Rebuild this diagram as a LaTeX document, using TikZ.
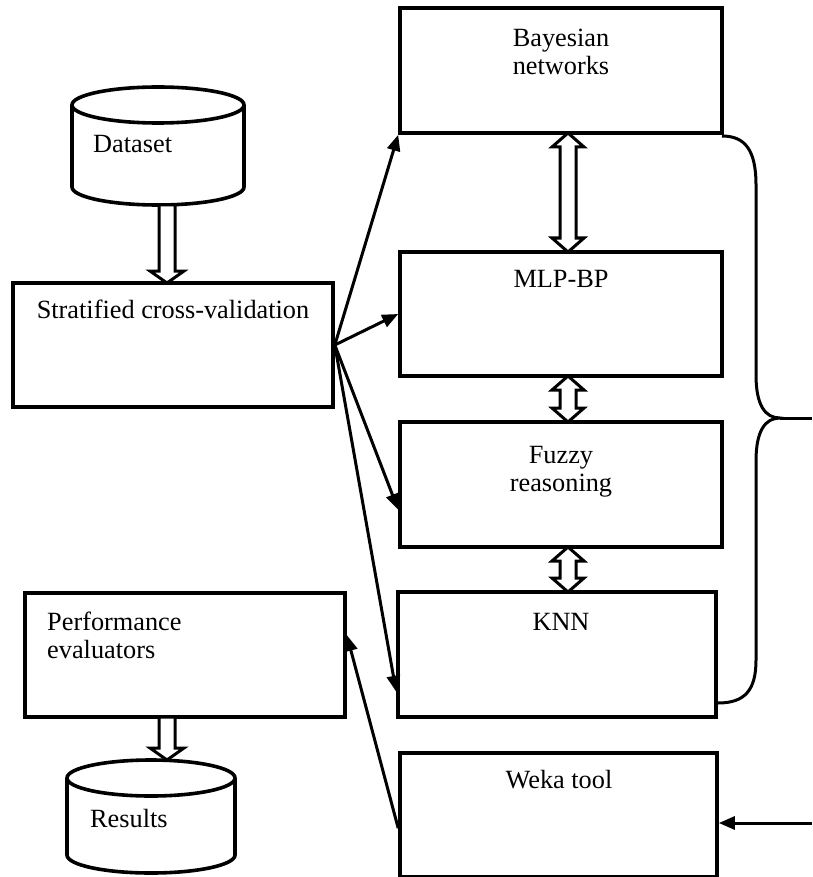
\documentclass[tikz,border=0pt]{standalone}
\usepackage{fontspec}
\setmainfont{Liberation Serif}
\usetikzlibrary{arrows.meta,calc,fit}
\newcommand\hArrDown[3]{%
  \draw[harrow] (#1-8,#2) -- (#1-8,#3-12) -- (#1-17,#3-12) -- (#1,#3) -- (#1+17,#3-12) -- (#1+8,#3-12) -- (#1+8,#2) -- cycle;}
\newcommand\hArrBoth[3]{%
  \draw[harrow] (#1,#2) -- (#1+16,#2+14) -- (#1+8,#2+14) -- (#1+8,#3-14) -- (#1+16,#3-14) -- (#1,#3) -- (#1-16,#3-14) -- (#1-8,#3-14) -- (#1-8,#2+14) -- (#1-16,#2+14) -- cycle;}
\newcommand\myCyl[5]{% cx, rx, ytop, ybot, ry
  \draw[cylline] (#1-#2,#3) -- (#1-#2,#4) .. controls (#1-#2,#4+0.5523*#5) and (#1-0.5523*#2,#4+#5) .. (#1,#4+#5) .. controls (#1+0.5523*#2,#4+#5) and (#1+#2,#4+0.5523*#5) .. (#1+#2,#4) -- (#1+#2,#3);
  \draw[cylline] (#1,#3) ellipse [x radius=#2, y radius=#5];}
\begin{document}
\begin{tikzpicture}[x=1pt,y=-1pt,
  box/.style={draw, line width=3.6pt, inner sep=0pt},
  cylline/.style={line width=3.6pt},
  harrow/.style={draw, fill=white, line width=3pt, line join=miter},
  farrow/.style={line width=3pt, -{Triangle[length=16pt,width=13pt]}},
  bline/.style={line width=3pt},
  lbl/.style={font=\fontsize{26.3}{28}\selectfont, inner sep=0pt, align=center},
]
\useasboundingbox (0,0) rectangle (812,877);
% cylinders
\myCyl{158}{86}{105}{187}{18}
\myCyl{151}{84}{778}{855}{18}
\node[lbl, anchor=base west] (ds) at (93,153) {Dataset};
\node[lbl, anchor=base west] (rs) at (90,827) {Results};
% boxes
\node[box, fit={(13,283) (333,407)}] (sc) {};
\node[box, fit={(400,8) (722,133)}] (bn) {};
\node[box, fit={(400,252) (722,376)}] (mlp) {};
\node[box, fit={(400,422) (722,547)}] (fz) {};
\node[box, fit={(398,592) (716,717)}] (knn) {};
\node[box, fit={(400,753) (717,877)}] (wk) {};
\node[box, fit={(25,593) (345,717)}] (pe) {};
% labels
\node[lbl, anchor=base] (sct) at (173,318) {Stratified cross-validation};
\node[lbl, anchor=north] (bnt) at (561,29) {Bayesian\\networks};
\node[lbl, anchor=base] (mlpt) at (561,287) {MLP-BP};
\node[lbl, anchor=north] (fzt) at (561,446) {Fuzzy\\reasoning};
\node[lbl, anchor=base] (knnt) at (561,630) {KNN};
\node[lbl, anchor=base] (wkt) at (559,788) {Weka tool};
\node[lbl, anchor=north west, align=left] (pet) at (47,612) {Performance\\evaluators};
% hollow arrows
\hArrDown{167}{205}{283}
\hArrDown{167}{717}{760}
\hArrBoth{568}{133}{252}
\hArrBoth{568}{376}{422}
\hArrBoth{568}{547}{592}
% fan arrows
\draw[farrow] (sc.east) -- (bn.south west);
\draw[farrow] (sc.east) -- (mlp.west);
\draw[farrow] (sc.east) -- ($(fz.south west)+(0,-39)$);
\draw[farrow] (sc.east) -- ($(knn.south west)+(0,-27)$);
\draw[farrow] ($(wk.north west)+(0,77)$) -- ($(pe.east)+(0,-20)$);
\coordinate (wkin) at (812,823);
\draw[farrow] (wkin) -- (wk.east |- wkin);
% brace
\coordinate (btip) at (780,418);
\coordinate (bout) at (812,418);
\draw[bline] (722,136) .. controls (745,136) and (756,150) .. (756,185) -- (756,375) .. controls (756,405) and (765,418) .. (btip)
  .. controls (765,418) and (756,431) .. (756,461) -- (756,660) .. controls (756,690) and (745,703) .. (718,703);
\draw[bline] (btip) -- (bout);
\end{tikzpicture}
\end{document}
